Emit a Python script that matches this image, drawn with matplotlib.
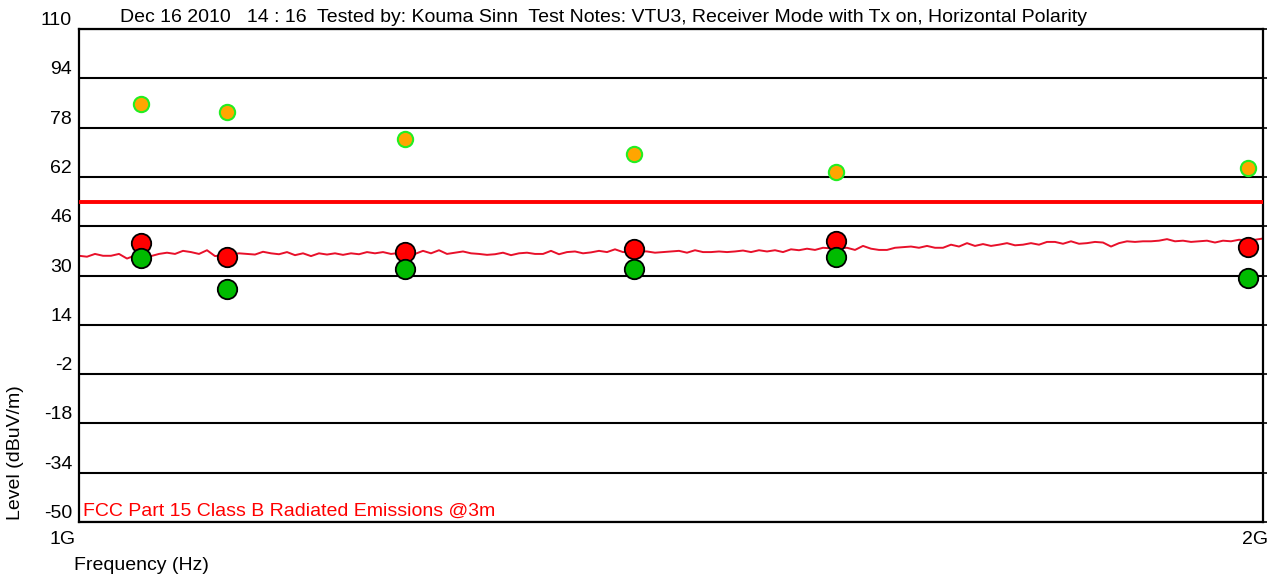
import numpy as np
import matplotlib
matplotlib.use("Agg")
import matplotlib.pyplot as plt

plt.rcParams['font.family'] = ['Liberation Sans Narrow', 'Liberation Sans', 'DejaVu Sans']
plt.rcParams['axes.unicode_minus'] = False

# sweep trace (dBuV/m), evenly spaced over 1-2 GHz
trace = [36.4, 36.1, 37.0, 36.4, 36.4, 37.0, 35.5, 36.5, 36.8, 36.3,
         37.0, 37.4, 37.0, 38.0, 37.6, 37.0, 38.2, 36.3, 36.6, 36.8,
         37.2, 37.0, 36.8, 37.7, 37.2, 36.9, 37.6, 36.6, 37.2, 36.3,
         37.2,
         36.8, 37.2, 36.7, 37.2, 36.9, 37.6, 37.2, 37.6, 37.0, 37.3,
         37.4, 37.0, 38.0, 37.2, 38.2, 37.0, 37.4, 37.8, 37.2, 37.0,
         36.7, 36.9, 37.4, 36.6, 37.2, 37.4, 37.0, 37.0, 38.0, 36.9,
         37.6, 37.8, 37.2, 37.5, 38.0, 37.6, 38.5, 37.6, 37.8, 37.9,
         37.8, 37.4, 37.6, 37.8, 38.0, 37.4, 38.2, 37.6, 37.6, 37.8,
         37.6, 37.8, 38.1, 37.6, 38.2, 37.8, 38.2, 37.6, 38.5, 38.2,
         38.7, 38.3, 39.0, 38.8, 38.8, 39.0, 38.3, 39.6, 38.7, 38.3,
         38.3, 39.0, 39.2, 39.4, 39.0, 39.6, 39.0, 39.0, 40.0, 39.4,
         40.5, 39.6, 40.2, 39.6, 40.0, 40.5, 39.8, 40.0, 40.5, 40.0,
         40.9,
         40.9, 40.3, 41.1, 40.3, 40.5, 40.9, 40.7, 39.4, 40.5, 41.1,
         40.9, 41.1, 41.1, 41.3, 41.8, 41.1, 41.3, 40.9, 41.1, 41.3,
         40.7, 41.3, 41.1, 41.6, 41.4, 41.6, 42.0]
trace_freq = np.linspace(1000, 2000, len(trace))

# measured emissions (MHz, dBuV/m)
freqs = [1052, 1125, 1275, 1469, 1639, 1987]
peak = [85.7, 83.1, 74.3, 69.4, 63.6, 64.9]
quasi_peak = [40.6, 36.0, 37.7, 38.5, 41.3, 39.2]
average = [35.8, 25.5, 32.0, 32.0, 36.1, 29.3]
limit = 54

yticks = [110, 94, 78, 62, 46, 30, 14, -2, -18, -34, -50]

W, H = 1278, 582
fig = plt.figure(figsize=(W / 100, H / 100), dpi=100)
ax = fig.add_axes([79 / W, 1 - 522 / H, (1263 - 79) / W, (522 - 29) / H])

ax.set_xlim(1000, 2000)
ax.set_ylim(-50, 110)
ax.set_yticks(yticks)
ax.set_xticks([])
ax.grid(axis='y', color='black', linewidth=1.5)
ax.set_axisbelow(True)
ax.tick_params(axis='y', which='both', left=False, right=True, length=3,
               width=1.2, labelsize=14, pad=2)
for lab in ax.get_yticklabels():
    lab.set_va('bottom')
for s in ax.spines.values():
    s.set_linewidth(1.6)

ax.plot(trace_freq, trace, color='#e8102a', linewidth=1.4, zorder=2)
ax.plot([1000, 2000], [limit, limit], color='#ff0000', linewidth=2.8, zorder=3)
ax.plot(freqs, quasi_peak, 'o', ms=14, mfc='#ff0000', mec='black', mew=1.3, zorder=4)
ax.plot(freqs, average, 'o', ms=14, mfc='#00bb00', mec='black', mew=1.3, zorder=5)
ax.plot(freqs, peak, 'o', ms=11, mfc='#ffa500', mec='#22ee22', mew=1.5, zorder=6)

ax.text(0.003, 0.004, 'FCC Part 15 Class B Radiated Emissions @3m', color='#ff0000',
        fontsize=14, transform=ax.transAxes, ha='left', va='bottom')

fig.text(120 / W, 1 - 18 / H,
         'Dec 16 2010   14 : 16  Tested by: Kouma Sinn  Test Notes: VTU3, '
         'Receiver Mode with Tx on, Horizontal Polarity',
         fontsize=14, ha='left', va='center')
fig.text(76 / W, 1 - 540 / H, '1G', fontsize=14, ha='right', va='center')
fig.text(1268 / W, 1 - 540 / H, '2G', fontsize=14, ha='right', va='center')
fig.text(74 / W, 1 - 565 / H, 'Frequency (Hz)', fontsize=14, ha='left', va='center')
fig.text(16 / W, 1 - 520 / H, 'Level (dBuV/m)', fontsize=14, rotation=90,
         ha='center', va='bottom')

fig.savefig('out.png', dpi=100)
